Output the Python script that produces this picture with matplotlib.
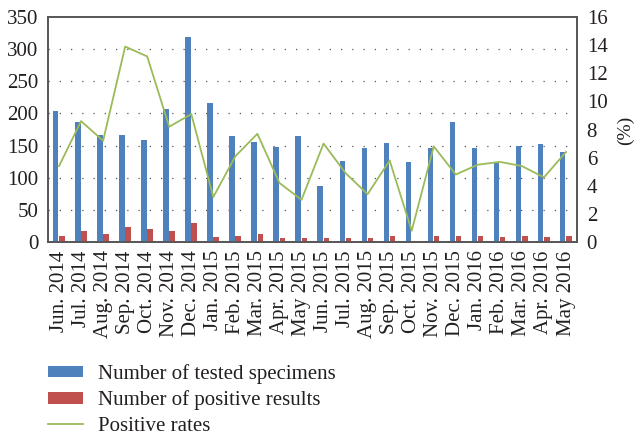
import matplotlib
matplotlib.use("Agg")
import matplotlib.pyplot as plt
import numpy as np

months = ["Jun. 2014", "Jul. 2014", "Aug. 2014", "Sep. 2014", "Oct. 2014", "Nov. 2014",
          "Dec. 2014", "Jan. 2015", "Feb. 2015", "Mar. 2015", "Apr. 2015", "May 2015",
          "Jun. 2015", "Jul. 2015", "Aug. 2015", "Sep. 2015", "Oct. 2015", "Nov. 2015",
          "Dec. 2015", "Jan. 2016", "Feb. 2016", "Mar. 2016", "Apr. 2016", "May 2016"]
tested = [204, 187, 166, 166, 159, 207, 319, 216, 165, 155, 148, 165,
          87, 126, 146, 154, 124, 146, 187, 146, 124, 149, 152, 140]
positive = [10, 17, 12, 23, 21, 17, 29, 7, 10, 12, 6, 6,
            6, 6, 6, 9, 1, 10, 9, 9, 7, 9, 7, 9]
rates = [5.4, 8.6, 7.2, 13.9, 13.2, 8.2, 9.1, 3.2, 6.1, 7.7, 4.2, 3.0,
         7.0, 4.9, 3.4, 5.8, 0.8, 6.8, 4.8, 5.5, 5.7, 5.4, 4.6, 6.4]

plt.rcParams['font.family'] = ['Liberation Serif', 'DejaVu Serif']
fs = 15
txt = "#231f20"

fig = plt.figure(figsize=(6.35, 4.38), dpi=100)
ax = fig.add_axes([0.0756, 0.4475, 0.8331, 0.5135])
ax2 = ax.twinx()

x = np.arange(len(months))
w = 0.25
b1 = ax.bar(x - 0.15, tested, w, color="#4F81BD", label="Number of tested specimens", zorder=3)
b2 = ax.bar(x + 0.13, positive, w, color="#C0504D", label="Number of positive results", zorder=3)
l1, = ax2.plot(x, rates, color="#9BBB59", lw=1.3, label="Positive rates")

ax.set_xlim(-0.5, len(months) - 0.5)
ax.set_ylim(0, 350)
ax.set_yticks(range(0, 351, 50))
ax2.set_ylim(0, 16)
ax2.set_yticks(range(0, 17, 2))
for v in range(50, 301, 50):
    ax.axhline(v, color="#555555", lw=0.9, ls=(0, (1, 8)), zorder=1)

ax.set_xticks(x)
ax.set_xticklabels(months, rotation=90)
ax.tick_params(axis="both", length=0, labelsize=fs, colors=txt)
ax2.tick_params(axis="y", length=0, labelsize=fs, colors=txt, pad=7)
ax.tick_params(axis="y", pad=7)
ax.tick_params(axis="x", pad=6)
fig.text(625 / 635, 1 - 130 / 438, "(%)", rotation=90, ha="center", va="center",
         fontsize=14, color=txt)

for a in (ax, ax2):
    for s in a.spines.values():
        s.set_color("#555555")
        s.set_linewidth(1.2)

fig.legend([b1, b2, l1], [b1.get_label(), b2.get_label(), l1.get_label()],
           loc="upper left", bbox_to_anchor=(48 / 635, 1 - 364 / 438), frameon=False,
           fontsize=fs, handlelength=1.7, handleheight=0.5, labelspacing=0.32,
           handletextpad=0.7, borderpad=0, borderaxespad=0, labelcolor=txt)

fig.savefig("out.png", dpi=100)
